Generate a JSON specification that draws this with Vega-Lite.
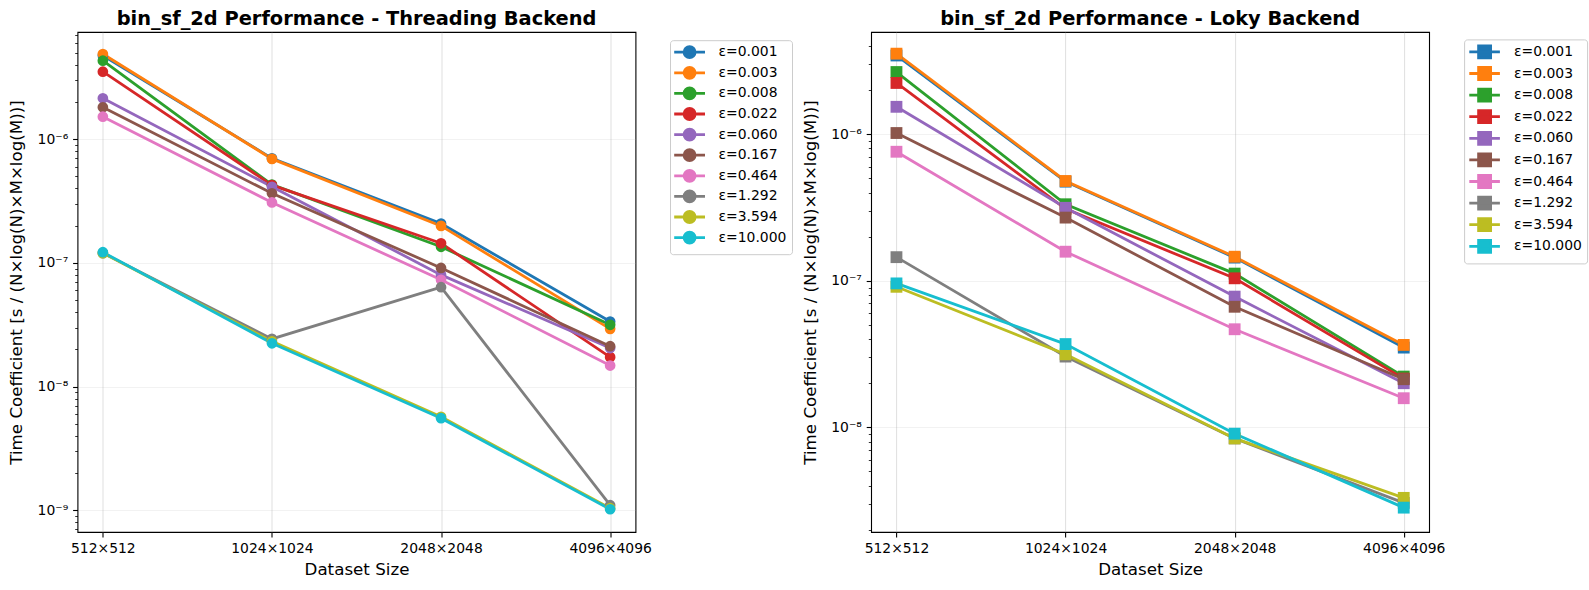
{
  "$schema": "https://vega.github.io/schema/vega-lite/v6.json",
  "padding": {"left": 7.5, "top": 8, "right": 5, "bottom": 5},
  "background": "white",
  "config": {
    "font": "DejaVu Sans",
    "view": {"stroke": "black", "strokeWidth": 1.1},
    "axis": {
      "domain": false,
      "labelFont": "DejaVu Sans", "labelFontSize": 13.9, "labelColor": "black",
      "tickColor": "black",
      "titleFont": "DejaVu Sans", "titleFontSize": 16.7, "titleFontWeight": "normal", "titleColor": "black",
      "gridColor": "#b0b0b0", "gridOpacity": 0.4, "gridWidth": 1
    },
    "title": {"font": "DejaVu Sans", "fontSize": 19.4, "fontWeight": "bold", "color": "black", "anchor": "middle", "offset": 3}
  },
  "data": {"values": [
    {"b": "Threading", "s": "512×512", "e": "ε=0.001", "v": 4.75e-6},
    {"b": "Threading", "s": "1024×1024", "e": "ε=0.001", "v": 7.0e-7},
    {"b": "Threading", "s": "2048×2048", "e": "ε=0.001", "v": 2.08e-7},
    {"b": "Threading", "s": "4096×4096", "e": "ε=0.001", "v": 3.36e-8},
    {"b": "Threading", "s": "512×512", "e": "ε=0.003", "v": 4.88e-6},
    {"b": "Threading", "s": "1024×1024", "e": "ε=0.003", "v": 6.93e-7},
    {"b": "Threading", "s": "2048×2048", "e": "ε=0.003", "v": 1.99e-7},
    {"b": "Threading", "s": "4096×4096", "e": "ε=0.003", "v": 2.93e-8},
    {"b": "Threading", "s": "512×512", "e": "ε=0.008", "v": 4.31e-6},
    {"b": "Threading", "s": "1024×1024", "e": "ε=0.008", "v": 4.29e-7},
    {"b": "Threading", "s": "2048×2048", "e": "ε=0.008", "v": 1.35e-7},
    {"b": "Threading", "s": "4096×4096", "e": "ε=0.008", "v": 3.16e-8},
    {"b": "Threading", "s": "512×512", "e": "ε=0.022", "v": 3.51e-6},
    {"b": "Threading", "s": "1024×1024", "e": "ε=0.022", "v": 4.25e-7},
    {"b": "Threading", "s": "2048×2048", "e": "ε=0.022", "v": 1.44e-7},
    {"b": "Threading", "s": "4096×4096", "e": "ε=0.022", "v": 1.73e-8},
    {"b": "Threading", "s": "512×512", "e": "ε=0.060", "v": 2.14e-6},
    {"b": "Threading", "s": "1024×1024", "e": "ε=0.060", "v": 4.12e-7},
    {"b": "Threading", "s": "2048×2048", "e": "ε=0.060", "v": 8.0e-8},
    {"b": "Threading", "s": "4096×4096", "e": "ε=0.060", "v": 2.05e-8},
    {"b": "Threading", "s": "512×512", "e": "ε=0.167", "v": 1.81e-6},
    {"b": "Threading", "s": "1024×1024", "e": "ε=0.167", "v": 3.65e-7},
    {"b": "Threading", "s": "2048×2048", "e": "ε=0.167", "v": 9.1e-8},
    {"b": "Threading", "s": "4096×4096", "e": "ε=0.167", "v": 2.12e-8},
    {"b": "Threading", "s": "512×512", "e": "ε=0.464", "v": 1.52e-6},
    {"b": "Threading", "s": "1024×1024", "e": "ε=0.464", "v": 3.08e-7},
    {"b": "Threading", "s": "2048×2048", "e": "ε=0.464", "v": 7.3e-8},
    {"b": "Threading", "s": "4096×4096", "e": "ε=0.464", "v": 1.48e-8},
    {"b": "Threading", "s": "512×512", "e": "ε=1.292", "v": 1.2e-7},
    {"b": "Threading", "s": "1024×1024", "e": "ε=1.292", "v": 2.43e-8},
    {"b": "Threading", "s": "2048×2048", "e": "ε=1.292", "v": 6.36e-8},
    {"b": "Threading", "s": "4096×4096", "e": "ε=1.292", "v": 1.1e-9},
    {"b": "Threading", "s": "512×512", "e": "ε=3.594", "v": 1.2e-7},
    {"b": "Threading", "s": "1024×1024", "e": "ε=3.594", "v": 2.32e-8},
    {"b": "Threading", "s": "2048×2048", "e": "ε=3.594", "v": 5.7e-9},
    {"b": "Threading", "s": "4096×4096", "e": "ε=3.594", "v": 1.04e-9},
    {"b": "Threading", "s": "512×512", "e": "ε=10.000", "v": 1.22e-7},
    {"b": "Threading", "s": "1024×1024", "e": "ε=10.000", "v": 2.24e-8},
    {"b": "Threading", "s": "2048×2048", "e": "ε=10.000", "v": 5.56e-9},
    {"b": "Threading", "s": "4096×4096", "e": "ε=10.000", "v": 1.02e-9},
    {"b": "Loky", "s": "512×512", "e": "ε=0.001", "v": 3.45e-6},
    {"b": "Loky", "s": "1024×1024", "e": "ε=0.001", "v": 4.75e-7},
    {"b": "Loky", "s": "2048×2048", "e": "ε=0.001", "v": 1.44e-7},
    {"b": "Loky", "s": "4096×4096", "e": "ε=0.001", "v": 3.5e-8},
    {"b": "Loky", "s": "512×512", "e": "ε=0.003", "v": 3.55e-6},
    {"b": "Loky", "s": "1024×1024", "e": "ε=0.003", "v": 4.8e-7},
    {"b": "Loky", "s": "2048×2048", "e": "ε=0.003", "v": 1.46e-7},
    {"b": "Loky", "s": "4096×4096", "e": "ε=0.003", "v": 3.65e-8},
    {"b": "Loky", "s": "512×512", "e": "ε=0.008", "v": 2.66e-6},
    {"b": "Loky", "s": "1024×1024", "e": "ε=0.008", "v": 3.33e-7},
    {"b": "Loky", "s": "2048×2048", "e": "ε=0.008", "v": 1.12e-7},
    {"b": "Loky", "s": "4096×4096", "e": "ε=0.008", "v": 2.22e-8},
    {"b": "Loky", "s": "512×512", "e": "ε=0.022", "v": 2.24e-6},
    {"b": "Loky", "s": "1024×1024", "e": "ε=0.022", "v": 3.1e-7},
    {"b": "Loky", "s": "2048×2048", "e": "ε=0.022", "v": 1.04e-7},
    {"b": "Loky", "s": "4096×4096", "e": "ε=0.022", "v": 2.15e-8},
    {"b": "Loky", "s": "512×512", "e": "ε=0.060", "v": 1.54e-6},
    {"b": "Loky", "s": "1024×1024", "e": "ε=0.060", "v": 3.15e-7},
    {"b": "Loky", "s": "2048×2048", "e": "ε=0.060", "v": 7.8e-8},
    {"b": "Loky", "s": "4096×4096", "e": "ε=0.060", "v": 2.0e-8},
    {"b": "Loky", "s": "512×512", "e": "ε=0.167", "v": 1.02e-6},
    {"b": "Loky", "s": "1024×1024", "e": "ε=0.167", "v": 2.7e-7},
    {"b": "Loky", "s": "2048×2048", "e": "ε=0.167", "v": 6.65e-8},
    {"b": "Loky", "s": "4096×4096", "e": "ε=0.167", "v": 2.13e-8},
    {"b": "Loky", "s": "512×512", "e": "ε=0.464", "v": 7.6e-7},
    {"b": "Loky", "s": "1024×1024", "e": "ε=0.464", "v": 1.58e-7},
    {"b": "Loky", "s": "2048×2048", "e": "ε=0.464", "v": 4.67e-8},
    {"b": "Loky", "s": "4096×4096", "e": "ε=0.464", "v": 1.58e-8},
    {"b": "Loky", "s": "512×512", "e": "ε=1.292", "v": 1.45e-7},
    {"b": "Loky", "s": "1024×1024", "e": "ε=1.292", "v": 3.04e-8},
    {"b": "Loky", "s": "2048×2048", "e": "ε=1.292", "v": 8.4e-9},
    {"b": "Loky", "s": "4096×4096", "e": "ε=1.292", "v": 3.05e-9},
    {"b": "Loky", "s": "512×512", "e": "ε=3.594", "v": 9.1e-8},
    {"b": "Loky", "s": "1024×1024", "e": "ε=3.594", "v": 3.15e-8},
    {"b": "Loky", "s": "2048×2048", "e": "ε=3.594", "v": 8.4e-9},
    {"b": "Loky", "s": "4096×4096", "e": "ε=3.594", "v": 3.3e-9},
    {"b": "Loky", "s": "512×512", "e": "ε=10.000", "v": 9.6e-8},
    {"b": "Loky", "s": "1024×1024", "e": "ε=10.000", "v": 3.7e-8},
    {"b": "Loky", "s": "2048×2048", "e": "ε=10.000", "v": 9.05e-9},
    {"b": "Loky", "s": "4096×4096", "e": "ε=10.000", "v": 2.83e-9}
  ]},
  "spacing": 7.6,
  "hconcat": [
    {
      "title": {"text": "bin_sf_2d Performance - Threading Backend"},
      "width": 558, "height": 500,
      "transform": [{"filter": "datum.b === 'Threading'"}],
      "encoding": {
        "x": {"field": "s", "type": "ordinal",
          "sort": ["512×512", "1024×1024", "2048×2048", "4096×4096"],
          "scale": {"type": "point", "padding": 0.15},
          "axis": {"title": "Dataset Size", "labelAngle": 0, "grid": true, "tickSize": 4.9, "tickWidth": 1.1, "labelPadding": 5, "titlePadding": 6}},
        "y": {"field": "v", "type": "quantitative",
          "scale": {"type": "log", "domain": [6.68e-10, 7.35e-6], "nice": false, "zero": false},
          "axis": {
            "title": "Time Coefficient [s / (N×log(N)×M×log(M))]",
            "values": [7e-10, 8e-10, 9e-10, 1e-9, 2e-9, 3e-9, 4e-9, 5e-9, 6e-9, 7e-9, 8e-9, 9e-9, 1e-8, 2e-8, 3e-8, 4e-8, 5e-8, 6e-8, 7e-8, 8e-8, 9e-8, 1e-7, 2e-7, 3e-7, 4e-7, 5e-7, 6e-7, 7e-7, 8e-7, 9e-7, 1e-6, 2e-6, 3e-6, 4e-6, 5e-6, 6e-6, 7e-6],
            "labelExpr": "abs(log(datum.value)/LN10 - round(log(datum.value)/LN10)) < 0.001 ? '10⁻' + ['','¹','²','³','⁴','⁵','⁶','⁷','⁸','⁹'][-round(log(datum.value)/LN10)] : ''",
            "tickSize": {"condition": {"test": "abs(log(datum.value)/LN10 - round(log(datum.value)/LN10)) < 0.001", "value": 4.9}, "value": 2.8},
            "tickWidth": {"condition": {"test": "abs(log(datum.value)/LN10 - round(log(datum.value)/LN10)) < 0.001", "value": 1.1}, "value": 0.8},
            "gridOpacity": {"condition": {"test": "abs(log(datum.value)/LN10 - round(log(datum.value)/LN10)) < 0.001", "value": 0.4}, "value": 0},
            "labelPadding": 4.9, "titlePadding": 12, "minExtent": 40, "maxExtent": 40
          }},
        "color": {"field": "e", "type": "nominal",
          "scale": {"domain": ["ε=0.001", "ε=0.003", "ε=0.008", "ε=0.022", "ε=0.060", "ε=0.167", "ε=0.464", "ε=1.292", "ε=3.594", "ε=10.000"],
            "range": ["#1f77b4", "#ff7f0e", "#2ca02c", "#d62728", "#9467bd", "#8c564b", "#e377c2", "#7f7f7f", "#bcbd22", "#17becf"]},
          "legend": {"title": null, "orient": "none", "legendX": 592.5, "legendY": 8.2,
            "symbolType": "M-2.8,0H2.8M1,0A1,1,0,1,1,-1,0A1,1,0,1,1,1,0Z", "symbolSize": 121, "symbolStrokeWidth": 2.8, "symbolOpacity": 1,
            "labelFont": "DejaVu Sans", "labelFontSize": 13.9, "labelColor": "black",
            "rowPadding": -3.4, "padding": 5, "strokeColor": "#cccccc", "fillColor": "white", "cornerRadius": 3,
            "symbolOffset": 7.6, "labelOffset": 22}}
      },
      "layer": [
        {"mark": {"type": "line", "strokeWidth": 2.8}},
        {"mark": {"type": "point", "filled": true, "shape": "circle", "size": 115, "opacity": 1}}
      ]
    },
    {
      "title": {"text": "bin_sf_2d Performance - Loky Backend"},
      "width": 558, "height": 500,
      "transform": [{"filter": "datum.b === 'Loky'"}],
      "encoding": {
        "x": {"field": "s", "type": "ordinal",
          "sort": ["512×512", "1024×1024", "2048×2048", "4096×4096"],
          "scale": {"type": "point", "padding": 0.15},
          "axis": {"title": "Dataset Size", "labelAngle": 0, "grid": true, "tickSize": 4.9, "tickWidth": 1.1, "labelPadding": 5, "titlePadding": 6}},
        "y": {"field": "v", "type": "quantitative",
          "scale": {"type": "log", "domain": [1.93e-9, 4.99e-6], "nice": false, "zero": false},
          "axis": {
            "title": "Time Coefficient [s / (N×log(N)×M×log(M))]",
            "values": [2e-9, 3e-9, 4e-9, 5e-9, 6e-9, 7e-9, 8e-9, 9e-9, 1e-8, 2e-8, 3e-8, 4e-8, 5e-8, 6e-8, 7e-8, 8e-8, 9e-8, 1e-7, 2e-7, 3e-7, 4e-7, 5e-7, 6e-7, 7e-7, 8e-7, 9e-7, 1e-6, 2e-6, 3e-6, 4e-6],
            "labelExpr": "abs(log(datum.value)/LN10 - round(log(datum.value)/LN10)) < 0.001 ? '10⁻' + ['','¹','²','³','⁴','⁵','⁶','⁷','⁸','⁹'][-round(log(datum.value)/LN10)] : ''",
            "tickSize": {"condition": {"test": "abs(log(datum.value)/LN10 - round(log(datum.value)/LN10)) < 0.001", "value": 4.9}, "value": 2.8},
            "tickWidth": {"condition": {"test": "abs(log(datum.value)/LN10 - round(log(datum.value)/LN10)) < 0.001", "value": 1.1}, "value": 0.8},
            "gridOpacity": {"condition": {"test": "abs(log(datum.value)/LN10 - round(log(datum.value)/LN10)) < 0.001", "value": 0.4}, "value": 0},
            "labelPadding": 4.9, "titlePadding": 12, "minExtent": 40, "maxExtent": 40
          }},
        "color": {"field": "e", "type": "nominal",
          "scale": {"domain": ["ε=0.001", "ε=0.003", "ε=0.008", "ε=0.022", "ε=0.060", "ε=0.167", "ε=0.464", "ε=1.292", "ε=3.594", "ε=10.000"],
            "range": ["#1f77b4", "#ff7f0e", "#2ca02c", "#d62728", "#9467bd", "#8c564b", "#e377c2", "#7f7f7f", "#bcbd22", "#17becf"]},
          "legend": {"title": null, "orient": "none", "legendX": 593, "legendY": 7.4,
            "symbolType": "M-2.55,0H2.55M-1,-1H1V1H-1Z", "symbolSize": 144, "symbolStrokeWidth": 2.8, "symbolOpacity": 1,
            "labelFont": "DejaVu Sans", "labelFontSize": 13.9, "labelColor": "black",
            "rowPadding": -3.4, "padding": 5, "strokeColor": "#cccccc", "fillColor": "white", "cornerRadius": 3,
            "symbolOffset": 8, "labelOffset": 22}}
      },
      "layer": [
        {"mark": {"type": "line", "strokeWidth": 2.8}},
        {"mark": {"type": "point", "filled": true, "shape": "square", "size": 140, "opacity": 1}}
      ]
    }
  ],
  "resolve": {"scale": {"y": "independent", "color": "independent", "x": "independent"}, "legend": {"color": "independent"}}
}
